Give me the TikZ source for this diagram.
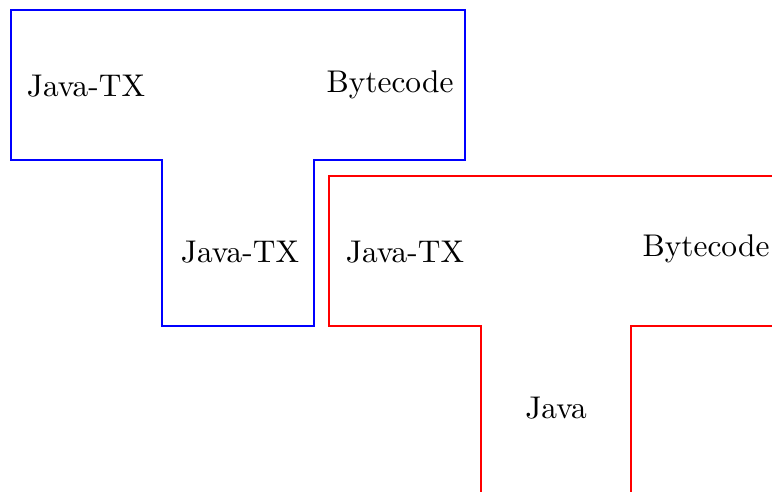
\documentclass[tikz,border=0pt]{standalone}
\begin{document}
\begin{tikzpicture}[x=0.3185pt,y=-0.3185pt,
  tee/.style={line width=0.4pt},
  lbl/.style={anchor=base,inner sep=0pt}]
\useasboundingbox (0,0) rectangle (772,492);
\clip (0,0) rectangle (772,492);
% blue T
\draw[tee,blue] (11,10) -- (465,10) -- (465,160) -- (314,160) -- (314,326) -- (162,326) -- (162,160) -- (11,160) -- cycle;
% red T
\draw[tee,red] (329,176) -- (783,176) -- (783,326) -- (631,326) -- (631,495) -- (481,495) -- (481,326) -- (329,326) -- cycle;
\node[lbl] (b1) at (86,97) {Java-TX};
\node[lbl] (b2) at (390,93) {Bytecode};
\node[lbl] (b3) at (240,263) {Java-TX};
\node[lbl] (r1) at (405,263) {Java-TX};
\node[lbl] (r2) at (706,257) {Bytecode};
\node[lbl] (r3) at (556,419) {Java};
\end{tikzpicture}
\end{document}
